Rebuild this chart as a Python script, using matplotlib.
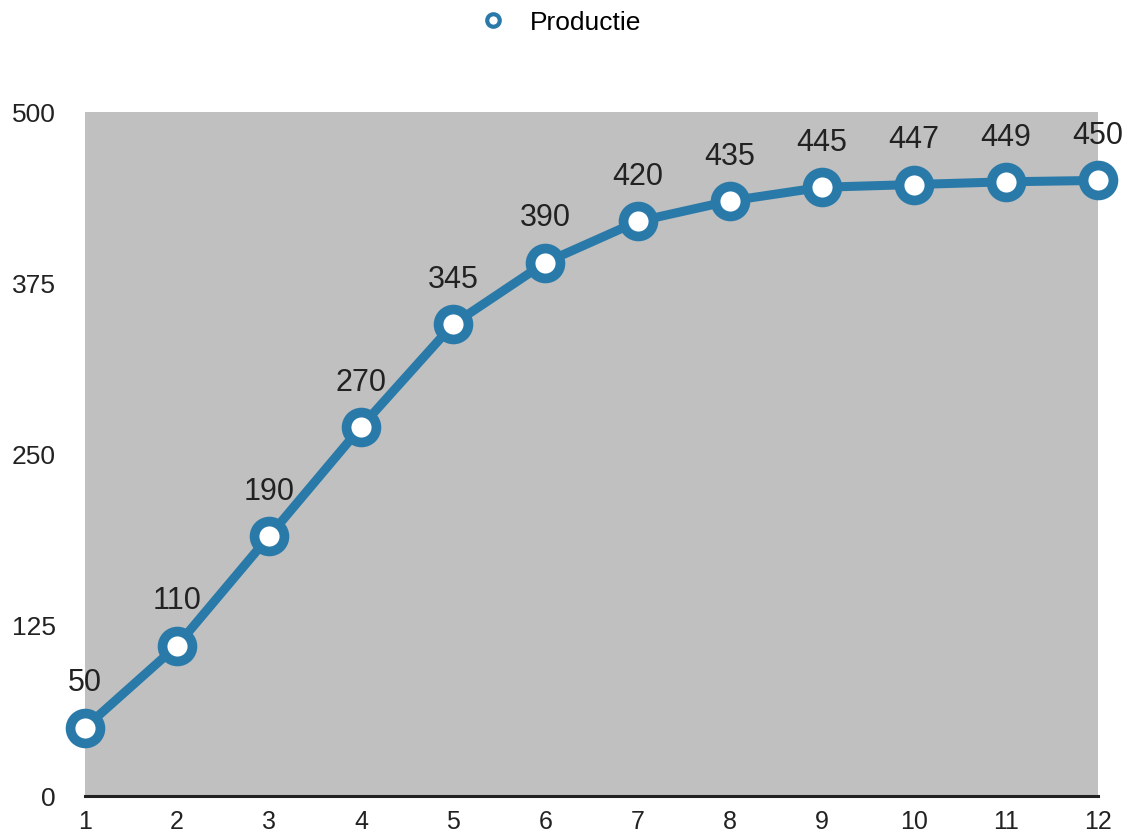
import matplotlib
matplotlib.use("Agg")
import matplotlib.pyplot as plt

plt.rcParams.update({
    "font.family": ["Liberation Sans", "DejaVu Sans"],
})

months = [1, 2, 3, 4, 5, 6, 7, 8, 9, 10, 11, 12]
productie = [50, 110, 190, 270, 345, 390, 420, 435, 445, 447, 449, 450]
y_ticks = [0, 125, 250, 375, 500]

blue = "#2a7aa9"

fig = plt.figure(figsize=(11.3, 8.36), dpi=100)
ax = fig.add_axes([0.0752, 0.0478, 0.8965, 0.8182])
ax.set_facecolor("#c0c0c0")

ax.plot(months, productie, color=blue, linewidth=6.5, marker="o",
        markersize=21.5, markerfacecolor="white", markeredgecolor=blue,
        markeredgewidth=7, clip_on=False, zorder=3)

for x, y in zip(months, productie):
    ax.annotate(str(y), (x, y), xytext=(0, 21), textcoords="offset points",
                ha="center", va="bottom", fontsize=22, color="#222222")

ax.set_xlim(1, 12)
ax.set_ylim(0, 500)
ax.set_xticks(months)
ax.set_yticks(y_ticks)
ax.tick_params(axis="both", length=0, labelsize=19, colors="#222222")
ax.tick_params(axis="x", pad=10, labelsize=18)
ax.tick_params(axis="y", pad=21)

for side in ["top", "right", "left"]:
    ax.spines[side].set_visible(False)
ax.spines["bottom"].set_linewidth(2.2)
ax.spines["bottom"].set_color("#222222")

# legend at top
fig.legend(handles=[plt.Line2D([], [], color=blue, linestyle="none", marker="o",
                               markersize=9, markerfacecolor="white",
                               markeredgewidth=3, label="Productie")],
           loc="center", bbox_to_anchor=(0.49, 0.973), frameon=False,
           fontsize=19, handletextpad=0.4)

fig.savefig("out.png", dpi=100)
